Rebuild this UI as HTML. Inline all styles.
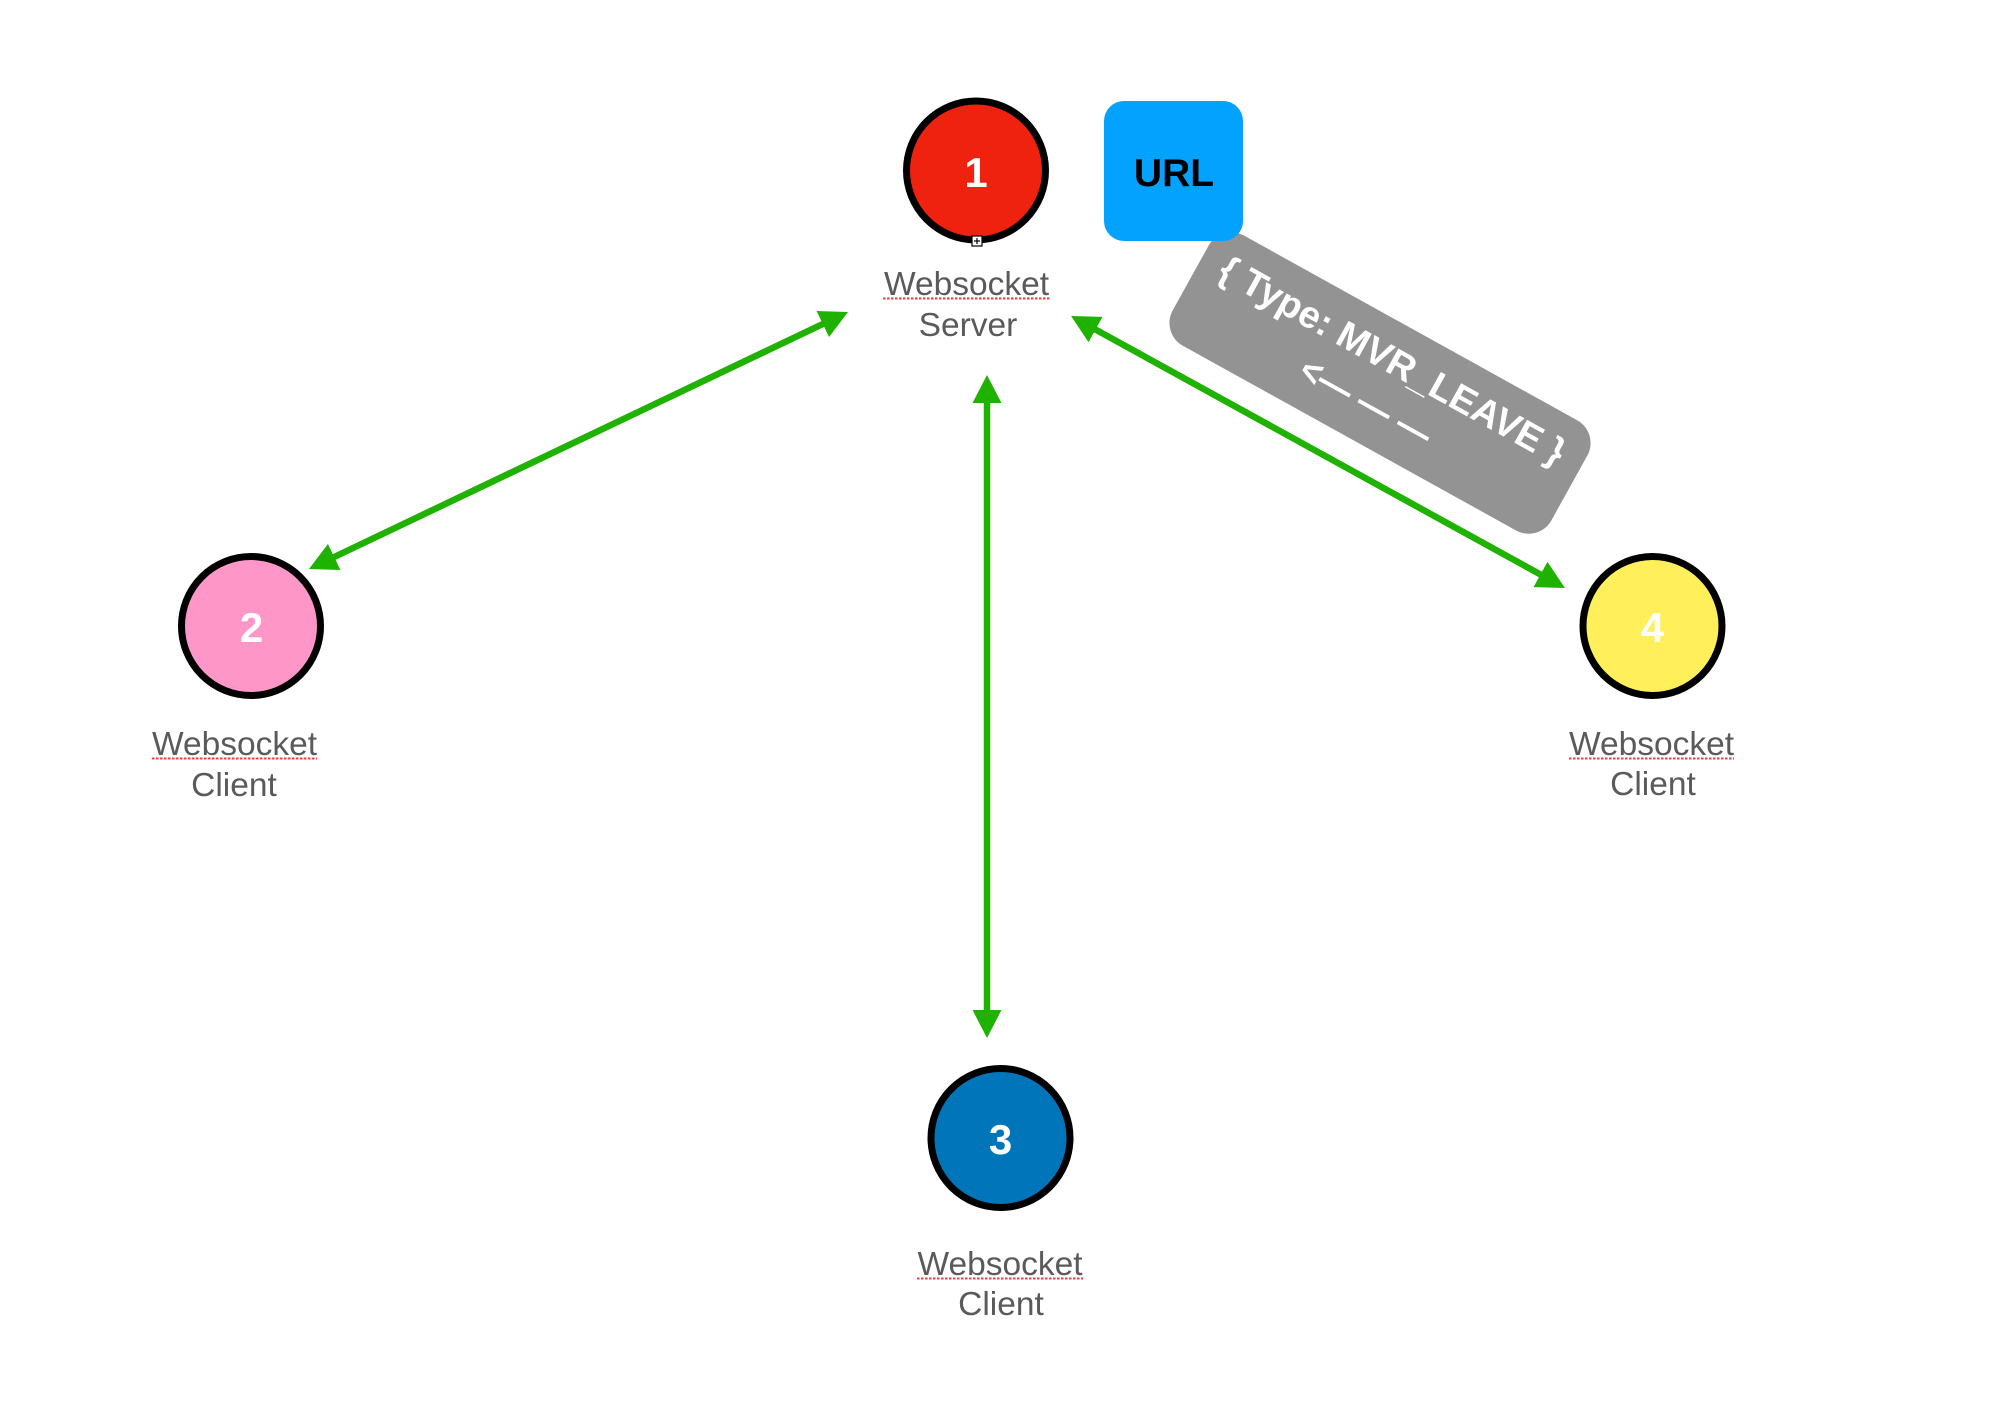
<!DOCTYPE html>
<html>
<head>
<meta charset="utf-8">
<style>
  html, body { margin: 0; padding: 0; background: #ffffff; }
  svg { display: block; }
  text { font-family: "Liberation Sans", Arial, sans-serif; }
</style>
</head>
<body>
<svg width="2014" height="1418" viewBox="0 0 2014 1418" xmlns="http://www.w3.org/2000/svg">
  <defs>
    <marker id="ah" viewBox="0 0 28 29" markerWidth="28" markerHeight="29" refX="14" refY="14.5" orient="auto-start-reverse" markerUnits="userSpaceOnUse">
      <path d="M0,0 L28,14.5 L0,29 z" fill="#1fb200"/>
    </marker>
  </defs>

  <rect x="0" y="0" width="2014" height="1418" fill="#ffffff"/>

  <!-- connectors -->
  <g stroke="#1fb200" stroke-width="6.5" fill="none">
    <line x1="321.6" y1="563.0" x2="835.4" y2="318.0" marker-start="url(#ah)" marker-end="url(#ah)"/>
    <line x1="1083.3" y1="322.8" x2="1552.7" y2="581.2" marker-start="url(#ah)" marker-end="url(#ah)"/>
    <line x1="987" y1="389" x2="987" y2="1024" marker-start="url(#ah)" marker-end="url(#ah)"/>
  </g>

  <!-- grey rotated message label -->
  <g transform="translate(1380,383) rotate(29)">
    <rect x="-216.5" y="-63" width="433" height="126" rx="26" ry="26" fill="#939393"/>
    <text x="0" y="-13" text-anchor="middle" font-size="38" font-weight="bold" fill="#ffffff">{ Type: MVR_LEAVE }</text>
    <text x="-3" y="36" text-anchor="middle" font-size="38" font-weight="bold" fill="#ffffff" textLength="145" lengthAdjust="spacingAndGlyphs">&lt;— — —</text>
  </g>

  <!-- URL box -->
  <rect x="1104" y="101" width="139" height="140" rx="20" ry="20" fill="#02a2fe"/>
  <text x="1174" y="186" text-anchor="middle" font-size="39" font-weight="bold" fill="#000000">URL</text>

  <!-- Node 1 -->
  <circle cx="976" cy="170.5" r="69.5" fill="#ee220e" stroke="#000" stroke-width="7"/>
  <text x="976" y="187" text-anchor="middle" font-size="42" font-weight="bold" fill="#ffffff">1</text>
  <rect x="972" y="236" width="10" height="10" fill="#ffffff" stroke="#000" stroke-width="1.2"/>
  <line x1="974" y1="241" x2="980" y2="241" stroke="#000" stroke-width="1.2"/>
  <line x1="977" y1="238" x2="977" y2="244" stroke="#000" stroke-width="1.2"/>

  <!-- Node 2 -->
  <circle cx="251" cy="626" r="69.5" fill="#ff96c8" stroke="#000" stroke-width="7"/>
  <text x="251.5" y="642" text-anchor="middle" font-size="42" font-weight="bold" fill="#ffffff">2</text>

  <!-- Node 3 -->
  <circle cx="1000.5" cy="1138" r="69.5" fill="#0075b9" stroke="#000" stroke-width="7"/>
  <text x="1000.5" y="1154" text-anchor="middle" font-size="42" font-weight="bold" fill="#ffffff">3</text>

  <!-- Node 4 -->
  <circle cx="1652.5" cy="626" r="69.5" fill="#ffef5a" stroke="#000" stroke-width="7"/>
  <text x="1652.5" y="642" text-anchor="middle" font-size="42" font-weight="bold" fill="#ffffff">4</text>

  <!-- Labels -->
  <g font-size="33.5" fill="#5a5a5a" text-anchor="middle">
    <text x="966.5" y="295">Websocket</text>
    <text x="968" y="336">Server</text>

    <text x="234.5" y="755">Websocket</text>
    <text x="234" y="796">Client</text>

    <text x="1651.5" y="755">Websocket</text>
    <text x="1653" y="795">Client</text>

    <text x="1000" y="1275">Websocket</text>
    <text x="1001" y="1315">Client</text>
  </g>

  <!-- spellcheck dotted underlines -->
  <g stroke="#ff3838" stroke-width="2" stroke-dasharray="2.5,1.5" fill="none">
    <line x1="883" y1="298.5" x2="1050" y2="298.5"/>
    <line x1="152" y1="758.5" x2="317" y2="758.5"/>
    <line x1="1569" y1="758.5" x2="1734" y2="758.5"/>
    <line x1="917" y1="1278.5" x2="1083" y2="1278.5"/>
  </g>
</svg>
</body>
</html>
